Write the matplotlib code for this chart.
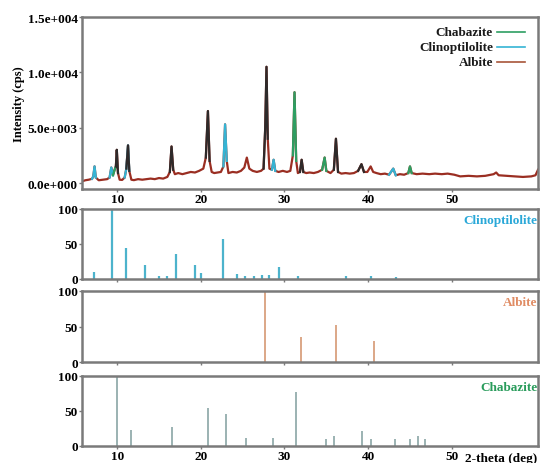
import matplotlib
matplotlib.use("Agg")
import matplotlib.pyplot as plt
import numpy as np

# ---------------- data ----------------
two_theta = [5.8, 6.2, 6.6, 7.0, 7.15, 7.3, 7.45, 7.8, 8.3, 8.8, 9.1, 9.3, 9.5, 9.7, 9.85, 9.96,
             10.1, 10.3, 10.6, 10.9, 11.1, 11.3, 11.45, 11.7, 12.0, 12.5, 13.0, 13.5, 14.0, 14.5,
             15.0, 15.5, 16.0, 16.3, 16.5, 16.7, 16.9, 17.3, 17.8, 18.3, 18.8, 19.3, 19.8, 20.3,
             20.6, 20.85, 21.05, 21.3, 21.6, 22.0, 22.4, 22.7, 22.9, 23.1, 23.3, 23.8, 24.3, 24.8,
             25.2, 25.5, 25.8, 26.2, 26.7, 27.2, 27.5, 27.7, 27.85, 28.0, 28.2, 28.5, 28.7, 28.9,
             29.3, 29.8, 30.3, 30.7, 31.0, 31.2, 31.4, 31.6, 31.85, 32.05, 32.25, 32.6, 33.0, 33.5,
             34.0, 34.5, 34.8, 35.0, 35.5, 35.9, 36.15, 36.4, 36.8, 37.3, 37.8, 38.3, 38.8, 39.2,
             39.5, 39.9, 40.3, 40.6, 41.0, 41.5, 42.0, 42.5, 43.0, 43.3, 43.8, 44.3, 44.8, 45.0,
             45.2, 45.8, 46.5, 47.3, 48.0, 48.8, 49.5, 50.3, 51.0, 52.0, 53.0, 54.0, 55.0, 55.3,
             55.6, 56.5, 57.5, 58.5, 59.5, 60.0, 60.3]
intensity = [150, 250, 300, 380, 600, 1500, 500, 250, 300, 350, 500, 1400, 700, 1200, 1500, 3000,
             900, 300, 280, 500, 1300, 3400, 1100, 300, 260, 350, 300, 350, 400, 350,
             450, 400, 550, 1000, 3300, 1200, 800, 900, 800, 900, 1000, 950, 1100, 1300,
             2300, 6500, 2000, 1000, 900, 950, 1000, 1500, 5300, 2000, 900, 1000, 950, 1100,
             1400, 2300, 1300, 1100, 1000, 1100, 1300, 5000, 10500, 4000, 1300, 1200, 2100, 1100,
             1000, 1100, 1000, 1100, 2500, 8200, 2000, 900, 1000, 2100, 1000, 900, 950, 900,
             1000, 1200, 2300, 1100, 900, 1200, 4000, 1000, 850, 900, 850, 900, 1100, 1700,
             1000, 1000, 1500, 1000, 900, 800, 850, 750, 1300, 700, 800, 750, 900, 1500,
             900, 800, 850, 800, 850, 800, 850, 750, 600, 650, 600, 650, 800, 950,
             700, 650, 600, 550, 600, 700, 1200]

# coloured peak segments of the measured pattern: (start, end, colour key)
seg_start = [7.0, 9.1, 9.5, 9.85, 10.9, 11.1, 16.3, 20.6, 22.7, 27.5, 28.5, 31.0, 31.85, 34.5, 35.9, 38.8, 42.5, 44.8]
seg_end   = [7.45, 9.5, 9.85, 10.1, 11.45, 11.45, 16.7, 21.05, 23.1, 28.0, 28.9, 31.4, 32.25, 35.0, 36.4, 39.5, 43.3, 45.2]
seg_phase = ["clino", "clino", "chab", "dark", "clino", "dark", "dark", "dark", "clino", "dark", "clino", "chab", "dark", "chab", "dark", "dark", "clino", "chab"]

clino_pos = [7.25, 9.37, 11.1, 13.35, 15.05, 15.9, 17.05, 19.3, 20.0, 22.6, 24.3, 25.3, 26.3, 27.3, 28.1, 29.4, 31.6, 37.4, 40.3, 43.3]
clino_int = [10, 100, 45, 20, 4, 4, 36, 20, 8, 57, 7, 4, 4, 6, 6, 17, 5, 5, 5, 3]

albite_pos = [27.7, 32.0, 36.2, 40.7]
albite_int = [100, 35, 52, 30]

chab_pos = [9.96, 11.67, 16.6, 20.8, 23.0, 25.4, 28.6, 31.4, 35.0, 35.95, 39.3, 40.4, 43.2, 45.0, 46.0, 46.8]
chab_int = [100, 23, 27, 55, 46, 11, 11, 77, 10, 14, 21, 10, 10, 10, 14, 10]

top_yticks = [0, 5000, 10000, 15000]
top_yticklabels = ["0.0e+000", "5.0e+003", "1.0e+004", "1.5e+004"]
x_ticks = [10, 20, 30, 40, 50]
stick_yticks = [0, 50, 100]

# ---------------- style ----------------
plt.rcParams['font.family'] = ['Liberation Serif', 'DejaVu Serif']
plt.rcParams['font.weight'] = 'bold'
FRAME = '#7a7a7a'
C_LINE = '#9a2e22'
C_CLINO = '#35b4d4'
C_CHAB = '#2e9e62'
C_DARK = '#2e2a2a'
C_ALB = '#a8553a'
phase_col = {"clino": C_CLINO, "chab": C_CHAB, "dark": C_DARK}

W, H = 540, 464
fig = plt.figure(figsize=(W / 100, H / 100), dpi=100)

def rect(l, r, t, b):
    return [l / W, 1 - b / H, (r - l) / W, (b - t) / H]

XLIM = (5.8, 60.3)

def style(ax):
    for s in ax.spines.values():
        s.set_color(FRAME)
        s.set_linewidth(1.8)
    ax.tick_params(axis='both', length=2, width=1, color=FRAME, pad=1,
                   labelsize=9.5)
    for lab in ax.get_xticklabels() + ax.get_yticklabels():
        lab.set_fontweight('bold')

# top panel
ax0 = fig.add_axes(rect(82, 538, 18, 190))
tt = np.array(two_theta)
ii = np.array(intensity)
ax0.plot(tt, ii, color=C_LINE, lw=1.6, zorder=2)
for s, e, p in zip(seg_start, seg_end, seg_phase):
    m = (tt >= s - 1e-6) & (tt <= e + 1e-6)
    ax0.plot(tt[m], ii[m], color=phase_col[p], lw=1.6, zorder=3)
ax0.set_xlim(*XLIM)
ax0.set_ylim(-540, 15000)
ax0.set_yticks(top_yticks)
ax0.set_yticklabels(top_yticklabels)
ax0.set_xticks(x_ticks)
ax0.set_ylabel("Intensity (cps)", fontsize=9, fontweight='bold', labelpad=2)
style(ax0)

# legend drawn manually (labels right aligned, short line to the right)
leg_names = ["Chabazite", "Clinoptilolite", "Albite"]
leg_cols = [C_CHAB, C_CLINO, C_ALB]
for k, (n, c) in enumerate(zip(leg_names, leg_cols)):
    y = 1 - (33 + 15 * k - 18) / 172
    ax0.text((493 - 82) / 456, y, n, transform=ax0.transAxes, ha='right', va='center',
             fontsize=9.5, fontweight='bold', color='#1a1a1a')
    ax0.plot([(497 - 82) / 456, (525 - 82) / 456], [y, y], transform=ax0.transAxes,
             color=c, lw=1.2)

# stick panels
panels = [
    (rect(82, 538, 210, 280), clino_pos, clino_int, '#4cb3cc', 1.6, "Clinoptilolite", '#2aa8d8'),
    (rect(82, 538, 292, 363), albite_pos, albite_int, '#d9a07e', 1.3, "Albite", '#e08c64'),
    (rect(82, 538, 377, 447), chab_pos, chab_int, '#8aa6a6', 1.2, "Chabazite", '#2a9c5c'),
]
for idx, (r, pos, inten, col, lw, name, tcol) in enumerate(panels):
    ax = fig.add_axes(r)
    ax.vlines(pos, 0, inten, color=col, lw=lw)
    ax.set_xlim(*XLIM)
    ax.set_ylim(0, 100)
    ax.set_yticks(stick_yticks)
    ax.set_xticks(x_ticks)
    if idx < 2:
        ax.tick_params(axis='x', labelbottom=False)
    ax.text(0.999, 0.93, name, transform=ax.transAxes, ha='right', va='top',
            fontsize=9.5, fontweight='bold', color=tcol)
    style(ax)

fig.text(465 / W, 1 - 459 / H, "2-theta (deg)", ha='left', va='center',
         fontsize=9.5, fontweight='bold')

fig.savefig("out.png", dpi=100)
